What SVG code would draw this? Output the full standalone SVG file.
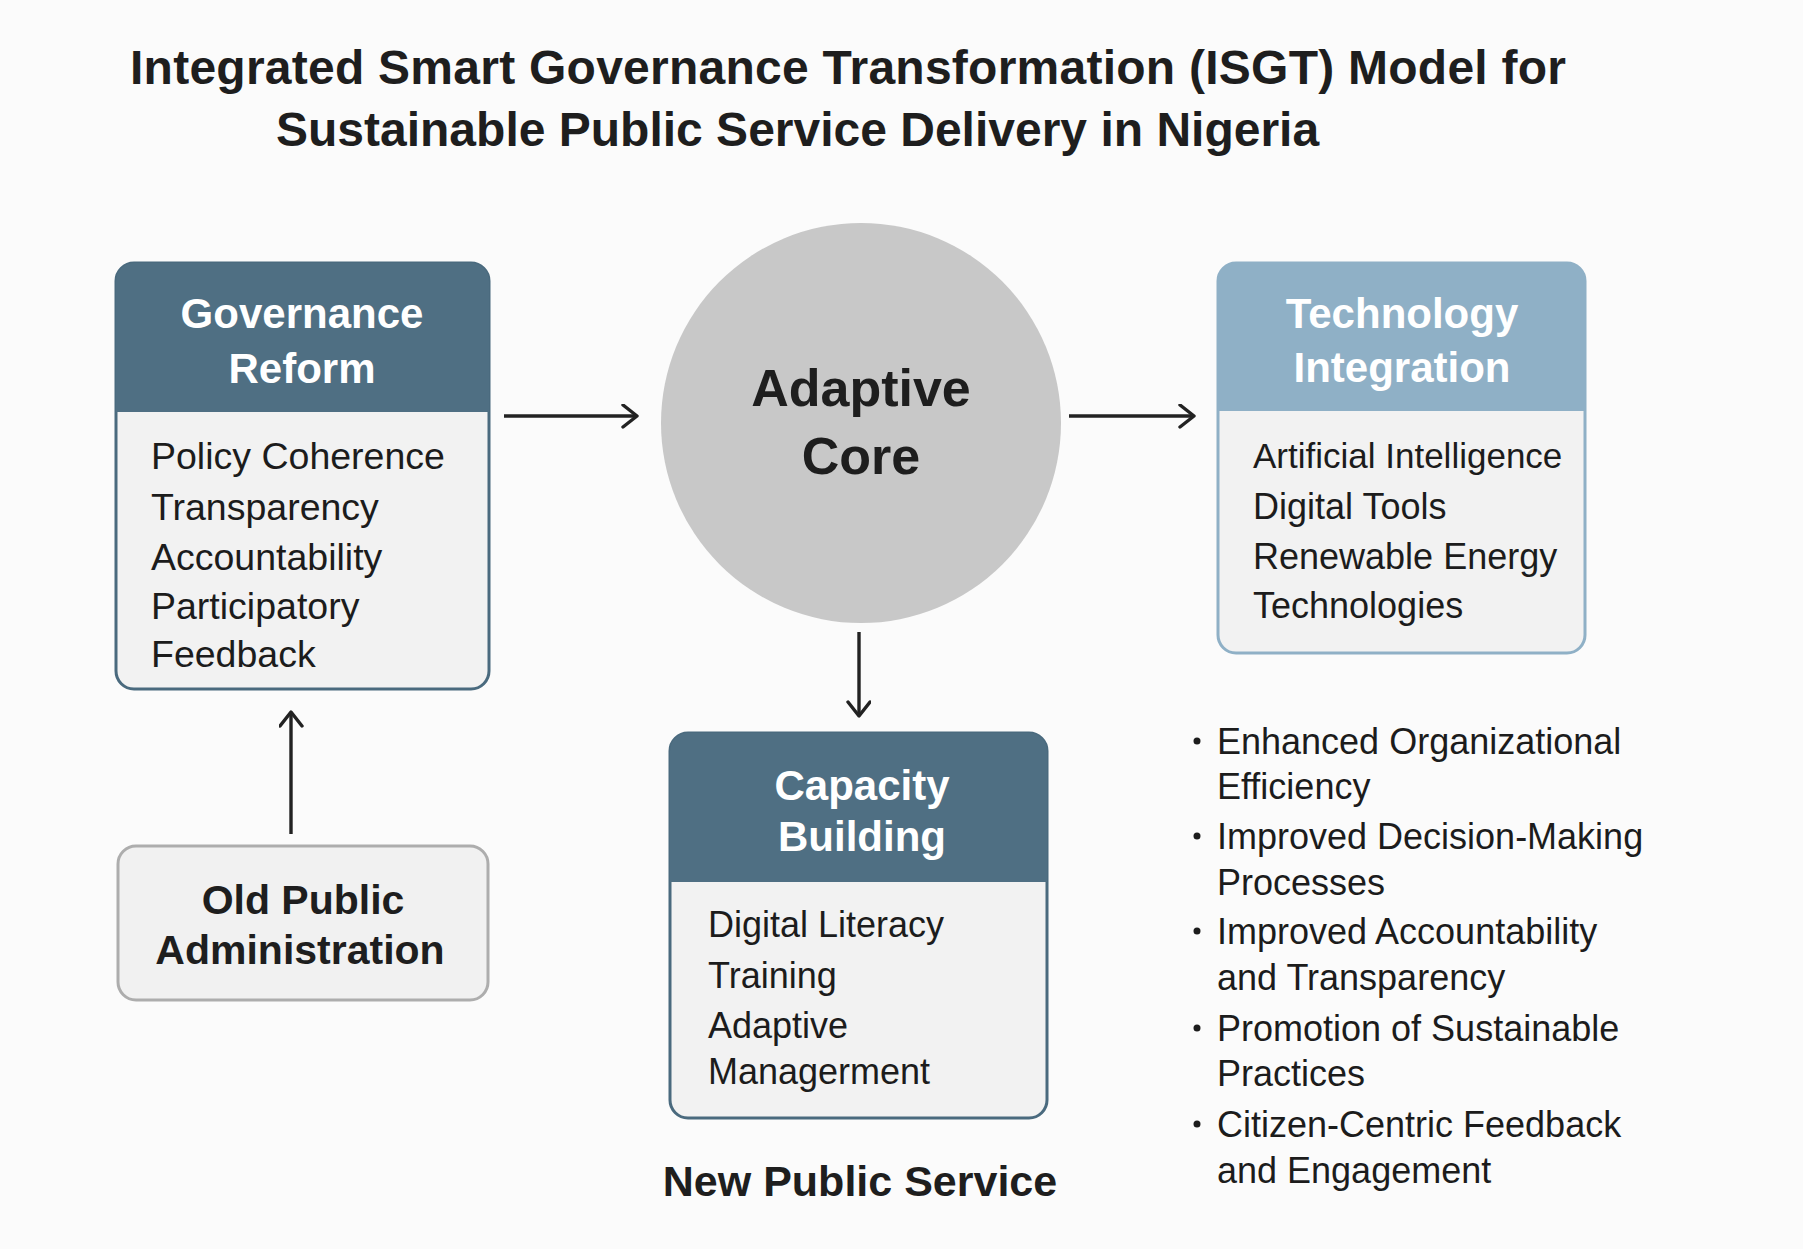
<svg xmlns="http://www.w3.org/2000/svg" width="1803" height="1249" viewBox="0 0 1803 1249">
<defs>
<marker id="arr" markerUnits="userSpaceOnUse" markerWidth="30" markerHeight="30" refX="16" refY="12" orient="auto">
<path d="M2,1 L16,12 L2,23" fill="none" stroke="#222" stroke-width="3.4" stroke-linecap="round" stroke-linejoin="round"/>
</marker>
</defs>
<style>
.title{font-family:"Liberation Sans",Arial,sans-serif;font-weight:bold;font-size:48px;fill:#1e1e1e}
.hdr{font-family:"Liberation Sans",Arial,sans-serif;font-weight:bold;font-size:42px;fill:#ffffff;text-anchor:middle}
.item{font-family:"Liberation Sans",Arial,sans-serif;font-size:36px;fill:#1c1c1c}
.gov{font-size:37.5px}
.tec{font-size:35px}
.dark{font-family:"Liberation Sans",Arial,sans-serif;font-weight:bold;fill:#1e1e1e;text-anchor:middle}
.body{fill:#f2f2f2}
.dot{fill:#1c1c1c}
.conn{stroke:#222;stroke-width:3.4;fill:none;marker-end:url(#arr)}
</style>
<rect width="1803" height="1249" fill="#fbfbfb"/>
<g id="title">
<text class="title" x="130" y="84" textLength="1436">Integrated Smart Governance Transformation (ISGT) Model for</text>
<text class="title" x="276" y="146">Sustainable Public Service Delivery in Nigeria</text>
</g>
<g id="governance-reform">
<rect class="body" x="116" y="263" width="373" height="426" rx="18" stroke="#4a6a7e" stroke-width="3"/>
<path d="M116,412 V281 a18,18 0 0 1 18,-18 H471 a18,18 0 0 1 18,18 V412 Z" fill="#4f6f83"/>
<text class="hdr" x="302" y="328">Governance</text>
<text class="hdr" x="302" y="383">Reform</text>
<text class="item gov" x="151" y="469">Policy Coherence</text>
<text class="item gov" x="151" y="520">Transparency</text>
<text class="item gov" x="151" y="570">Accountability</text>
<text class="item gov" x="151" y="619">Participatory</text>
<text class="item gov" x="151" y="667">Feedback</text>
</g>
<g id="adaptive-core">
<circle cx="861" cy="423" r="200" fill="#c8c8c8"/>
<text class="dark" x="861" y="406" font-size="52">Adaptive</text>
<text class="dark" x="861" y="474" font-size="52">Core</text>
</g>
<g id="technology-integration">
<rect class="body" x="1218" y="263" width="367" height="390" rx="18" stroke="#8fb0c6" stroke-width="3"/>
<path d="M1218,411 V281 a18,18 0 0 1 18,-18 H1567 a18,18 0 0 1 18,18 V411 Z" fill="#8fb0c6"/>
<text class="hdr" x="1402" y="328">Technology</text>
<text class="hdr" x="1402" y="382">Integration</text>
<text class="item tec" x="1253" y="468">Artificial Intelligence</text>
<text class="item" x="1253" y="519">Digital Tools</text>
<text class="item" x="1253" y="569">Renewable Energy</text>
<text class="item" x="1253" y="618">Technologies</text>
</g>
<g id="capacity-building">
<rect class="body" x="670" y="733" width="377" height="385" rx="18" stroke="#4a6a7e" stroke-width="3"/>
<path d="M670,882 V751 a18,18 0 0 1 18,-18 H1029 a18,18 0 0 1 18,18 V882 Z" fill="#4f6f83"/>
<text class="hdr" x="862" y="800">Capacity</text>
<text class="hdr" x="862" y="851">Building</text>
<text class="item" x="708" y="937">Digital Literacy</text>
<text class="item" x="708" y="988">Training</text>
<text class="item" x="708" y="1038">Adaptive</text>
<text class="item" x="708" y="1084">Managerment</text>
</g>
<g id="new-public-service">
<text class="dark" x="860" y="1196" font-size="43">New Public Service</text>
</g>
<g id="old-public-administration">
<rect x="118" y="846" width="370" height="154" rx="18" fill="#f1f1f1" stroke="#adadad" stroke-width="3"/>
<text class="dark" x="303" y="914" font-size="41">Old Public</text>
<text class="dark" x="300" y="964" font-size="41">Administration</text>
</g>
<g id="outcomes">
<circle class="dot" cx="1197" cy="741" r="3.5"/>
<circle class="dot" cx="1197" cy="836" r="3.5"/>
<circle class="dot" cx="1197" cy="931" r="3.5"/>
<circle class="dot" cx="1197" cy="1028" r="3.5"/>
<circle class="dot" cx="1197" cy="1124" r="3.5"/>
<g class="item">
<text x="1217" y="754">Enhanced Organizational</text>
<text x="1217" y="799">Efficiency</text>
<text x="1217" y="849">Improved Decision-Making</text>
<text x="1217" y="895">Processes</text>
<text x="1217" y="944">Improved Accountability</text>
<text x="1217" y="990">and Transparency</text>
<text x="1217" y="1041">Promotion of Sustainable</text>
<text x="1217" y="1086">Practices</text>
<text x="1217" y="1137">Citizen-Centric Feedback</text>
<text x="1217" y="1183">and Engagement</text>
</g>
</g>
<g id="connectors">
<line class="conn" x1="504" y1="416" x2="637" y2="416"/>
<line class="conn" x1="1069" y1="416" x2="1194" y2="416"/>
<line class="conn" x1="859" y1="632" x2="859" y2="716"/>
<line class="conn" x1="291" y1="834" x2="291" y2="712"/>
</g>
</svg>
